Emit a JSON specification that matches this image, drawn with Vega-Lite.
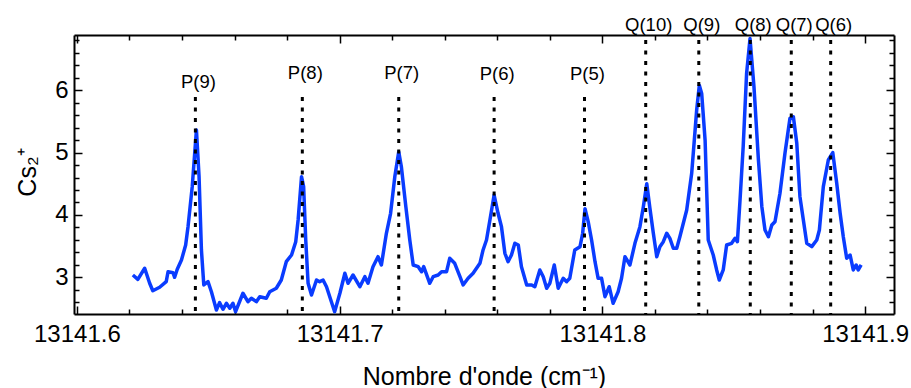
{
  "$schema": "https://vega.github.io/schema/vega-lite/v6.json",
  "width": 820,
  "height": 279,
  "autosize": {"type": "none"},
  "padding": {"left": 74, "top": 35, "right": 17, "bottom": 74},
  "config": {
    "view": {"stroke": null},
    "font": "Liberation Sans",
    "axis": {
      "domainColor": "black", "domainWidth": 2, "tickColor": "black", "tickWidth": 1.5,
      "grid": false, "labelFont": "Liberation Sans", "titleFont": "Liberation Sans",
      "labelColor": "black", "titleColor": "black", "titleFontWeight": "normal"
    }
  },
  "datasets": {
    "spectrum": [
      {"x": 13141.6213, "y": 3.035}, {"x": 13141.6232, "y": 2.966}, {"x": 13141.6258, "y": 3.143},
      {"x": 13141.6277, "y": 2.902}, {"x": 13141.6289, "y": 2.783}, {"x": 13141.6315, "y": 2.838},
      {"x": 13141.634, "y": 2.928}, {"x": 13141.6347, "y": 3.088}, {"x": 13141.6366, "y": 3.072},
      {"x": 13141.6372, "y": 2.998}, {"x": 13141.6382, "y": 3.127}, {"x": 13141.6398, "y": 3.276},
      {"x": 13141.6414, "y": 3.517}, {"x": 13141.6423, "y": 3.811}, {"x": 13141.6439, "y": 4.453},
      {"x": 13141.6455, "y": 5.363}, {"x": 13141.6465, "y": 4.613}, {"x": 13141.6474, "y": 3.437},
      {"x": 13141.6483, "y": 2.875}, {"x": 13141.6499, "y": 2.928}, {"x": 13141.6512, "y": 2.767},
      {"x": 13141.6531, "y": 2.473}, {"x": 13141.6543, "y": 2.591}, {"x": 13141.6556, "y": 2.485},
      {"x": 13141.6569, "y": 2.581}, {"x": 13141.6582, "y": 2.501}, {"x": 13141.6594, "y": 2.581},
      {"x": 13141.6604, "y": 2.446}, {"x": 13141.6632, "y": 2.742}, {"x": 13141.6651, "y": 2.607},
      {"x": 13141.6664, "y": 2.661}, {"x": 13141.6683, "y": 2.607}, {"x": 13141.6696, "y": 2.687},
      {"x": 13141.6721, "y": 2.661}, {"x": 13141.6734, "y": 2.767}, {"x": 13141.6759, "y": 2.822},
      {"x": 13141.6778, "y": 2.955}, {"x": 13141.6797, "y": 3.249}, {"x": 13141.6817, "y": 3.356},
      {"x": 13141.6833, "y": 3.57}, {"x": 13141.6842, "y": 3.918}, {"x": 13141.6855, "y": 4.613},
      {"x": 13141.6863, "y": 4.453}, {"x": 13141.6871, "y": 3.597}, {"x": 13141.688, "y": 2.902},
      {"x": 13141.6893, "y": 2.714}, {"x": 13141.6912, "y": 2.955}, {"x": 13141.6924, "y": 2.928},
      {"x": 13141.6937, "y": 2.955}, {"x": 13141.695, "y": 2.847}, {"x": 13141.6981, "y": 2.446},
      {"x": 13141.7001, "y": 2.742}, {"x": 13141.702, "y": 3.063}, {"x": 13141.7032, "y": 2.902},
      {"x": 13141.7051, "y": 3.035}, {"x": 13141.7077, "y": 2.847}, {"x": 13141.7096, "y": 3.008},
      {"x": 13141.7108, "y": 2.902}, {"x": 13141.7127, "y": 3.169}, {"x": 13141.7146, "y": 3.329},
      {"x": 13141.7159, "y": 3.196}, {"x": 13141.7178, "y": 3.705}, {"x": 13141.7194, "y": 4.026},
      {"x": 13141.721, "y": 4.613}, {"x": 13141.7225, "y": 5.014}, {"x": 13141.7235, "y": 4.774},
      {"x": 13141.7252, "y": 4.132}, {"x": 13141.7267, "y": 3.597}, {"x": 13141.728, "y": 3.196},
      {"x": 13141.7299, "y": 3.169}, {"x": 13141.7312, "y": 3.088}, {"x": 13141.732, "y": 3.169},
      {"x": 13141.7343, "y": 2.902}, {"x": 13141.7356, "y": 3.008}, {"x": 13141.7375, "y": 3.035},
      {"x": 13141.7388, "y": 3.088}, {"x": 13141.7407, "y": 3.088}, {"x": 13141.7419, "y": 3.303},
      {"x": 13141.7438, "y": 3.223}, {"x": 13141.7458, "y": 3.008}, {"x": 13141.747, "y": 2.875},
      {"x": 13141.7489, "y": 2.982}, {"x": 13141.7508, "y": 3.063}, {"x": 13141.7534, "y": 3.223},
      {"x": 13141.7546, "y": 3.437}, {"x": 13141.7559, "y": 3.597}, {"x": 13141.7572, "y": 3.918},
      {"x": 13141.7588, "y": 4.319}, {"x": 13141.7603, "y": 4.026}, {"x": 13141.7616, "y": 3.811},
      {"x": 13141.7629, "y": 3.384}, {"x": 13141.7641, "y": 3.249}, {"x": 13141.7654, "y": 3.356},
      {"x": 13141.7667, "y": 3.544}, {"x": 13141.768, "y": 3.517}, {"x": 13141.7692, "y": 3.169},
      {"x": 13141.7712, "y": 2.875}, {"x": 13141.7731, "y": 2.875}, {"x": 13141.7743, "y": 2.847},
      {"x": 13141.7762, "y": 3.116}, {"x": 13141.7775, "y": 3.008}, {"x": 13141.7788, "y": 2.822},
      {"x": 13141.78, "y": 2.902}, {"x": 13141.7817, "y": 3.196}, {"x": 13141.7832, "y": 2.822},
      {"x": 13141.7851, "y": 2.982}, {"x": 13141.7864, "y": 2.928}, {"x": 13141.7876, "y": 2.982},
      {"x": 13141.7895, "y": 3.437}, {"x": 13141.7915, "y": 3.49}, {"x": 13141.7925, "y": 3.705},
      {"x": 13141.7934, "y": 4.1}, {"x": 13141.7946, "y": 3.891}, {"x": 13141.7959, "y": 3.597},
      {"x": 13141.7972, "y": 3.249}, {"x": 13141.7984, "y": 2.982}, {"x": 13141.7997, "y": 2.982},
      {"x": 13141.801, "y": 2.687}, {"x": 13141.8026, "y": 2.847}, {"x": 13141.8041, "y": 2.581},
      {"x": 13141.806, "y": 2.767}, {"x": 13141.8073, "y": 2.982}, {"x": 13141.8086, "y": 3.329},
      {"x": 13141.8105, "y": 3.196}, {"x": 13141.8124, "y": 3.544}, {"x": 13141.8143, "y": 3.811},
      {"x": 13141.8156, "y": 4.132}, {"x": 13141.8169, "y": 4.5}, {"x": 13141.8181, "y": 4.106},
      {"x": 13141.8194, "y": 3.705}, {"x": 13141.8207, "y": 3.329}, {"x": 13141.8219, "y": 3.49},
      {"x": 13141.8232, "y": 3.57}, {"x": 13141.8245, "y": 3.705}, {"x": 13141.8257, "y": 3.624},
      {"x": 13141.827, "y": 3.464}, {"x": 13141.8283, "y": 3.464}, {"x": 13141.8295, "y": 3.65},
      {"x": 13141.8321, "y": 4.079}, {"x": 13141.834, "y": 4.668}, {"x": 13141.8359, "y": 5.684},
      {"x": 13141.8369, "y": 6.08}, {"x": 13141.8378, "y": 5.95}, {"x": 13141.8391, "y": 5.202},
      {"x": 13141.8403, "y": 3.597}, {"x": 13141.8422, "y": 3.356}, {"x": 13141.8435, "y": 3.116},
      {"x": 13141.8445, "y": 2.955}, {"x": 13141.846, "y": 3.116}, {"x": 13141.8473, "y": 3.517},
      {"x": 13141.8492, "y": 3.544}, {"x": 13141.8505, "y": 3.624}, {"x": 13141.8514, "y": 3.57},
      {"x": 13141.8524, "y": 4.239}, {"x": 13141.8536, "y": 5.095}, {"x": 13141.8549, "y": 6.273},
      {"x": 13141.8562, "y": 6.83}, {"x": 13141.8577, "y": 6.058}, {"x": 13141.8594, "y": 4.881},
      {"x": 13141.8607, "y": 4.132}, {"x": 13141.8619, "y": 3.758}, {"x": 13141.8632, "y": 3.65},
      {"x": 13141.8645, "y": 3.838}, {"x": 13141.8657, "y": 3.891}, {"x": 13141.8676, "y": 4.347},
      {"x": 13141.8695, "y": 4.989}, {"x": 13141.8714, "y": 5.551}, {"x": 13141.8727, "y": 5.576},
      {"x": 13141.874, "y": 5.149}, {"x": 13141.8752, "y": 4.292}, {"x": 13141.8765, "y": 3.918},
      {"x": 13141.8778, "y": 3.544}, {"x": 13141.8797, "y": 3.49}, {"x": 13141.8816, "y": 3.597},
      {"x": 13141.8826, "y": 3.758}, {"x": 13141.8841, "y": 4.453}, {"x": 13141.886, "y": 4.881},
      {"x": 13141.8877, "y": 5.0}, {"x": 13141.8892, "y": 4.507}, {"x": 13141.8905, "y": 4.026},
      {"x": 13141.8917, "y": 3.65}, {"x": 13141.893, "y": 3.303}, {"x": 13141.8943, "y": 3.356},
      {"x": 13141.8955, "y": 3.116}, {"x": 13141.8966, "y": 3.196}, {"x": 13141.8974, "y": 3.116},
      {"x": 13141.8985, "y": 3.196}
    ],
    "lines": [
      {"x": 13141.6451, "top": 5.894, "label": "P(9)", "ly": 6.032},
      {"x": 13141.6858, "top": 5.894, "label": "P(8)", "ly": 6.181},
      {"x": 13141.7225, "top": 5.894, "label": "P(7)", "ly": 6.181},
      {"x": 13141.7588, "top": 5.894, "label": "P(6)", "ly": 6.165},
      {"x": 13141.7932, "top": 5.894, "label": "P(5)", "ly": 6.165},
      {"x": 13141.8165, "top": 6.807, "label": "Q(10)", "ly": 6.952},
      {"x": 13141.8367, "top": 6.807, "label": "Q(9)", "ly": 6.952},
      {"x": 13141.8563, "top": 6.807, "label": "Q(8)", "ly": 6.952},
      {"x": 13141.8719, "top": 6.807, "label": "Q(7)", "ly": 6.952},
      {"x": 13141.8869, "top": 6.807, "label": "Q(6)", "ly": 6.952}
    ]
  },
  "layer": [
    {
      "data": {"name": "spectrum"},
      "mark": {"type": "line", "color": "#0a3cff", "strokeWidth": 3.5, "strokeJoin": "round"},
      "encoding": {
        "x": {
          "field": "x", "type": "quantitative",
          "scale": {"domain": [13141.5989, 13141.911], "nice": false, "zero": false},
          "axis": {
            "orient": "bottom",
            "values": [13141.6, 13141.62, 13141.64, 13141.66, 13141.68, 13141.7, 13141.72, 13141.74, 13141.76, 13141.78, 13141.8, 13141.82, 13141.84, 13141.86, 13141.88, 13141.9],
            "tickSize": {"condition": {"test": "abs(datum.value*10 - round(datum.value*10)) < 0.01", "value": -8}, "value": -5},
            "labelExpr": "abs(datum.value*10 - round(datum.value*10)) < 0.01 ? format(datum.value, '.1f') : ''",
            "labelFontSize": 24, "labelPadding": 16, "labelFlush": false, "labelOverlap": false,
            "title": "Nombre d'onde (cm⁻¹)", "titleFontSize": 25, "titleY": 70, "titleBaseline": "alphabetic"
          }
        },
        "y": {
          "field": "y", "type": "quantitative",
          "scale": {"domain": [2.409, 6.888], "nice": false, "zero": false},
          "axis": {
            "orient": "left",
            "values": [2.6, 2.8, 3, 3.2, 3.4, 3.6, 3.8, 4, 4.2, 4.4, 4.6, 4.8, 5, 5.2, 5.4, 5.6, 5.8, 6, 6.2, 6.4, 6.6, 6.8],
            "tickSize": {"condition": {"test": "abs(datum.value - round(datum.value)) < 0.01", "value": -8}, "value": -5},
            "labelExpr": "abs(datum.value - round(datum.value)) < 0.01 ? format(datum.value, 'd') : ''",
            "labelFontSize": 24, "labelPadding": 14, "labelOverlap": false, "labelFlush": false,
            "title": "Cs₂⁺", "titleFontSize": 25, "titleAngle": -90, "titleX": -39, "titleY": 137,
            "titleBaseline": "alphabetic", "titleAlign": "center"
          }
        }
      }
    },
    {
      "data": {"name": "lines"},
      "mark": {"type": "rule", "color": "black", "strokeWidth": 3, "strokeDash": [4, 6.5]},
      "encoding": {
        "x": {
          "field": "x", "type": "quantitative",
          "scale": {"domain": [13141.5989, 13141.911], "nice": false, "zero": false},
          "axis": {
            "orient": "top",
            "values": [13141.6, 13141.62, 13141.64, 13141.66, 13141.68, 13141.7, 13141.72, 13141.74, 13141.76, 13141.78, 13141.8, 13141.82, 13141.84, 13141.86, 13141.88, 13141.9],
            "tickSize": {"condition": {"test": "abs(datum.value*10 - round(datum.value*10)) < 0.01", "value": -8}, "value": -5},
            "labels": false, "title": null
          }
        },
        "y": {
          "field": "top", "type": "quantitative",
          "scale": {"domain": [2.409, 6.888], "nice": false, "zero": false},
          "axis": {
            "orient": "right",
            "values": [2.6, 2.8, 3, 3.2, 3.4, 3.6, 3.8, 4, 4.2, 4.4, 4.6, 4.8, 5, 5.2, 5.4, 5.6, 5.8, 6, 6.2, 6.4, 6.6, 6.8],
            "tickSize": {"condition": {"test": "abs(datum.value - round(datum.value)) < 0.01", "value": -8}, "value": -5},
            "labels": false, "title": null
          }
        },
        "y2": {"datum": 2.409}
      }
    },
    {
      "data": {"name": "lines"},
      "mark": {"type": "text", "color": "black", "fontSize": 18.5, "font": "Liberation Sans", "align": "center", "baseline": "alphabetic", "dx": 3},
      "encoding": {
        "x": {"field": "x", "type": "quantitative", "scale": {"domain": [13141.5989, 13141.911], "nice": false, "zero": false}, "axis": null},
        "y": {"field": "ly", "type": "quantitative", "scale": {"domain": [2.409, 6.888], "nice": false, "zero": false}, "axis": null},
        "text": {"field": "label"}
      }
    }
  ],
  "resolve": {"axis": {"x": "independent", "y": "independent"}}
}
